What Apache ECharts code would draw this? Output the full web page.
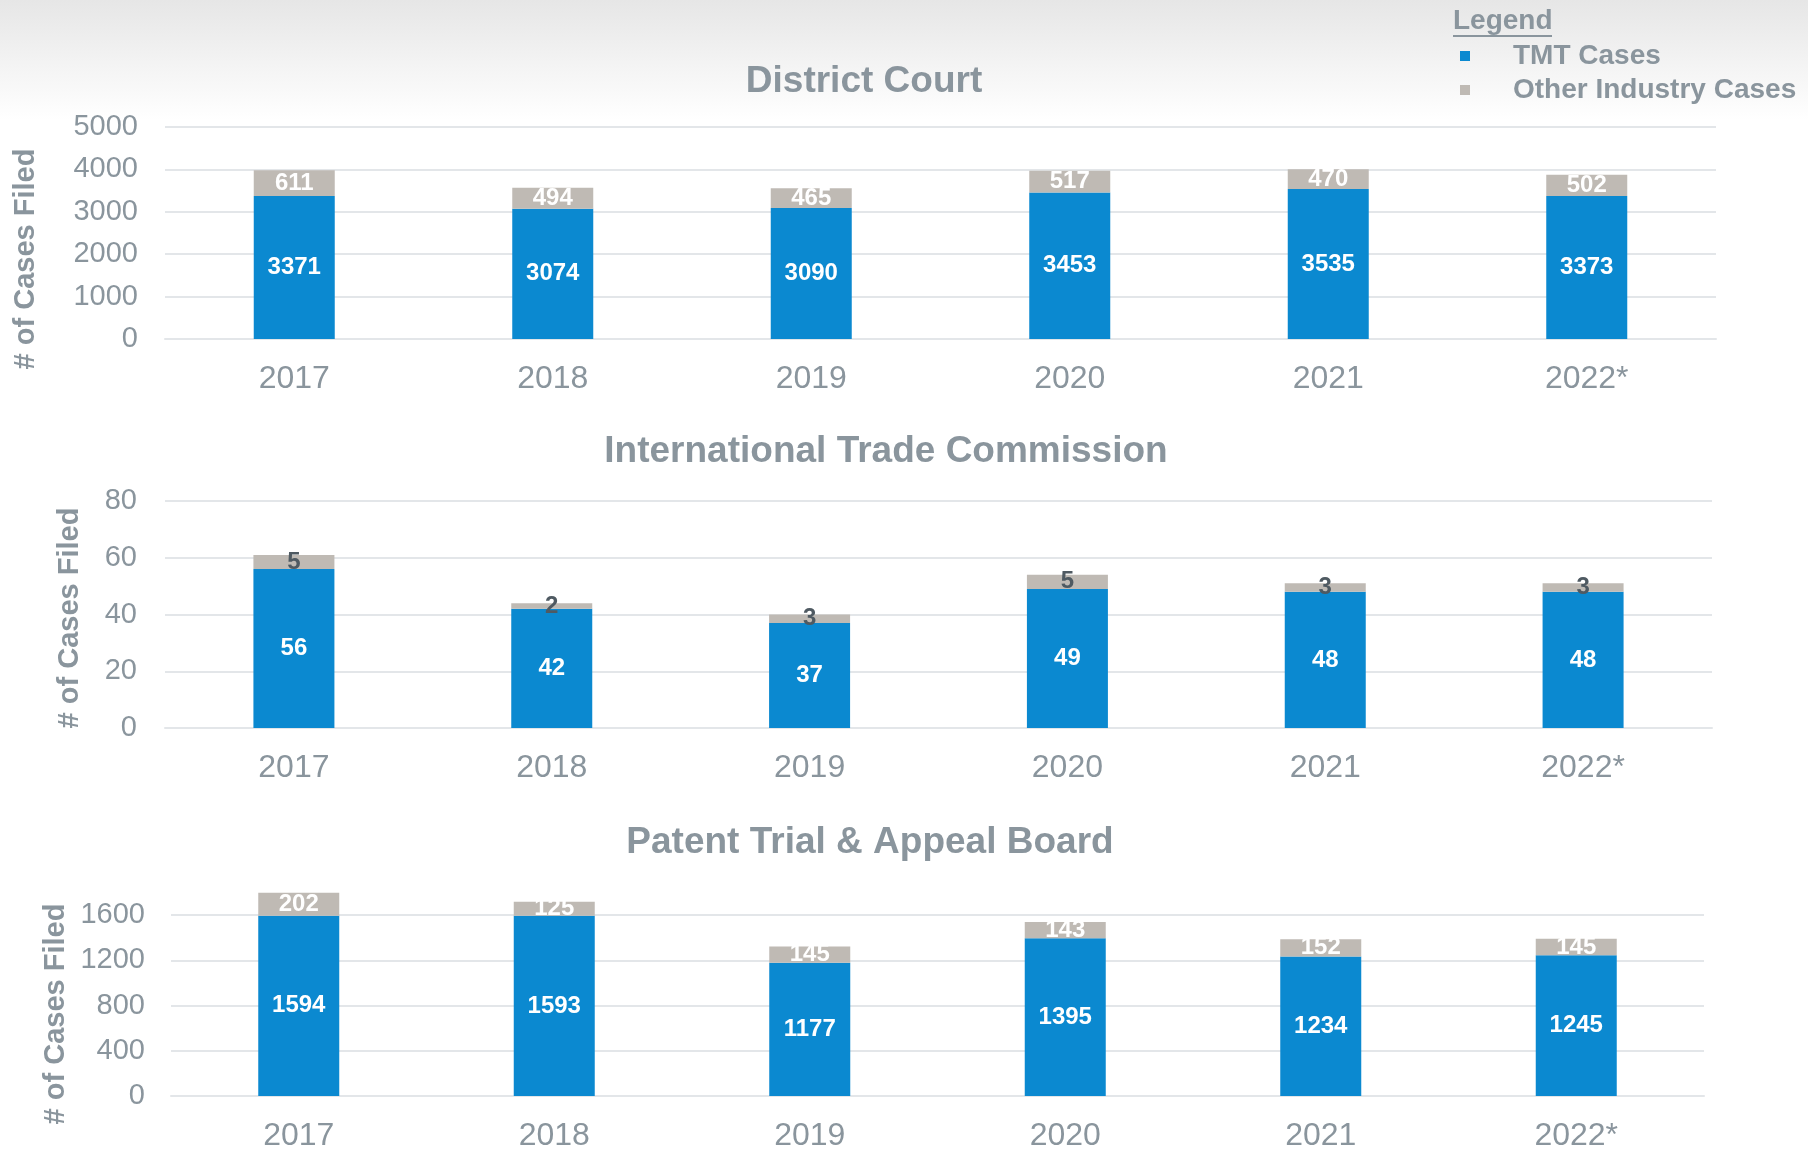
<!DOCTYPE html>
<html>
<head>
<meta charset="utf-8">
<script src="https://cdn.jsdelivr.net/npm/echarts@6/dist/echarts.min.js"></script>
<style>
  html, body { margin: 0; padding: 0; background: #fff; }
  #main { width: 1808px; height: 1152px; }
</style>
</head>
<body>
<div id="main"></div>
<script>
// categories and values
var years = ['2017', '2018', '2019', '2020', '2021', '2022*'];
var dcTmt = [3371, 3074, 3090, 3453, 3535, 3373];
var dcOther = [611, 494, 465, 517, 470, 502];
var itcTmt = [56, 42, 37, 49, 48, 48];
var itcOther = [5, 2, 3, 5, 3, 3];
var ptabTmt = [1594, 1593, 1177, 1395, 1234, 1245];
var ptabOther = [202, 125, 145, 143, 152, 145];

var FONT = "'Liberation Sans', Arial, sans-serif";
var GREY_TXT = '#8a959d';
var BLUE = '#0b89d0';
var STONE = '#bfbab4';
var GRID_LINE = '#e3e6e9';

var myChart = echarts.init(document.getElementById('main'));

function xAx(gi) {
  return {
    type: 'category', gridIndex: gi, data: years,
    axisLine: { lineStyle: { color: GRID_LINE, width: 2 } },
    axisTick: { show: false },
    axisLabel: { color: GREY_TXT, fontSize: 32, fontFamily: FONT, margin: 24 }
  };
}
function yAx(gi, max, step, margin) {
  return {
    type: 'value', gridIndex: gi, min: 0, max: max, interval: step,
    axisLine: { show: false }, axisTick: { show: false },
    splitLine: { lineStyle: { color: GRID_LINE, width: 2 } },
    axisLabel: {
      color: GREY_TXT, fontSize: 29, fontFamily: FONT, margin: margin,
      formatter: function (v) { return String(v); }
    }
  };
}
function bars(gi, tmt, other, otherColor, clip) {
  return [
    {
      name: 'TMT Cases', type: 'bar', stack: 's' + gi, xAxisIndex: gi, yAxisIndex: gi,
      data: tmt, barWidth: 81, clip: clip, itemStyle: { color: BLUE },
      label: { show: true, position: 'inside', color: '#fff', fontSize: 24, fontWeight: 'bold', fontFamily: FONT }
    },
    {
      name: 'Other Industry Cases', type: 'bar', stack: 's' + gi, xAxisIndex: gi, yAxisIndex: gi,
      data: other, barWidth: 81, clip: clip, itemStyle: { color: STONE },
      label: { show: true, position: 'inside', color: otherColor, fontSize: 24, fontWeight: 'bold', fontFamily: FONT }
    }
  ];
}
function title(text, cx, top) {
  return {
    text: text, left: cx, top: top, textAlign: 'center',
    textStyle: { color: GREY_TXT, fontSize: 37, fontWeight: 'bold', fontFamily: FONT }
  };
}
function axisName(cx, cy) {
  return {
    type: 'text', x: cx, y: cy, rotation: Math.PI / 2,
    style: {
      text: '# of Cases Filed', fill: GREY_TXT, font: 'bold 29px ' + FONT,
      align: 'center', verticalAlign: 'middle'
    }
  };
}

var option = {
  animation: false,
  backgroundColor: '#fff',
  title: [
    title('District Court', 859, 58),
    title('International Trade Commission', 881, 428),
    title('Patent Trial & Appeal Board', 865, 819)
  ],
  legend: {
    orient: 'vertical', left: 1455, top: 37,
    itemWidth: 10, itemHeight: 10, itemGap: 6, icon: 'rect',
    data: ['TMT Cases', 'Other Industry Cases'],
    textStyle: { color: GREY_TXT, fontSize: 28, fontWeight: 'bold', fontFamily: FONT, padding: [0, 0, 0, 38] }
  },
  graphic: [
    {
      type: 'rect', z: -10, shape: { x: 0, y: 0, width: 1808, height: 120 },
      style: {
        fill: new echarts.graphic.LinearGradient(0, 0, 0, 1, [
          { offset: 0, color: '#e6e6e6' }, { offset: 1, color: '#ffffff' }
        ])
      }
    },
    {
      type: 'text', x: 1453, y: 21,
      style: { text: 'Legend', fill: GREY_TXT, font: 'bold 28px ' + FONT, verticalAlign: 'middle' }
    },
    {
      type: 'line', shape: { x1: 1453, y1: 36, x2: 1552, y2: 36 },
      style: { stroke: GREY_TXT, lineWidth: 2 }
    },
    axisName(26, 259),
    axisName(70, 618),
    axisName(56, 1014)
  ],
  grid: [
    { left: 165, width: 1551, top: 127, height: 212 },
    { left: 165, width: 1547, top: 501, height: 227 },
    { left: 171, width: 1533, top: 915, height: 183 }
  ],
  xAxis: [xAx(0), xAx(1), xAx(2)],
  yAxis: [yAx(0, 5000, 1000, 27), yAx(1, 80, 20, 28), yAx(2, 1600, 400, 26)],
  series: []
    .concat(bars(0, dcTmt, dcOther, '#fff', true))
    .concat(bars(1, itcTmt, itcOther, '#4f5a62', true))
    .concat(bars(2, ptabTmt, ptabOther, '#fff', false))
};
myChart.setOption(option);
</script>
</body>
</html>
